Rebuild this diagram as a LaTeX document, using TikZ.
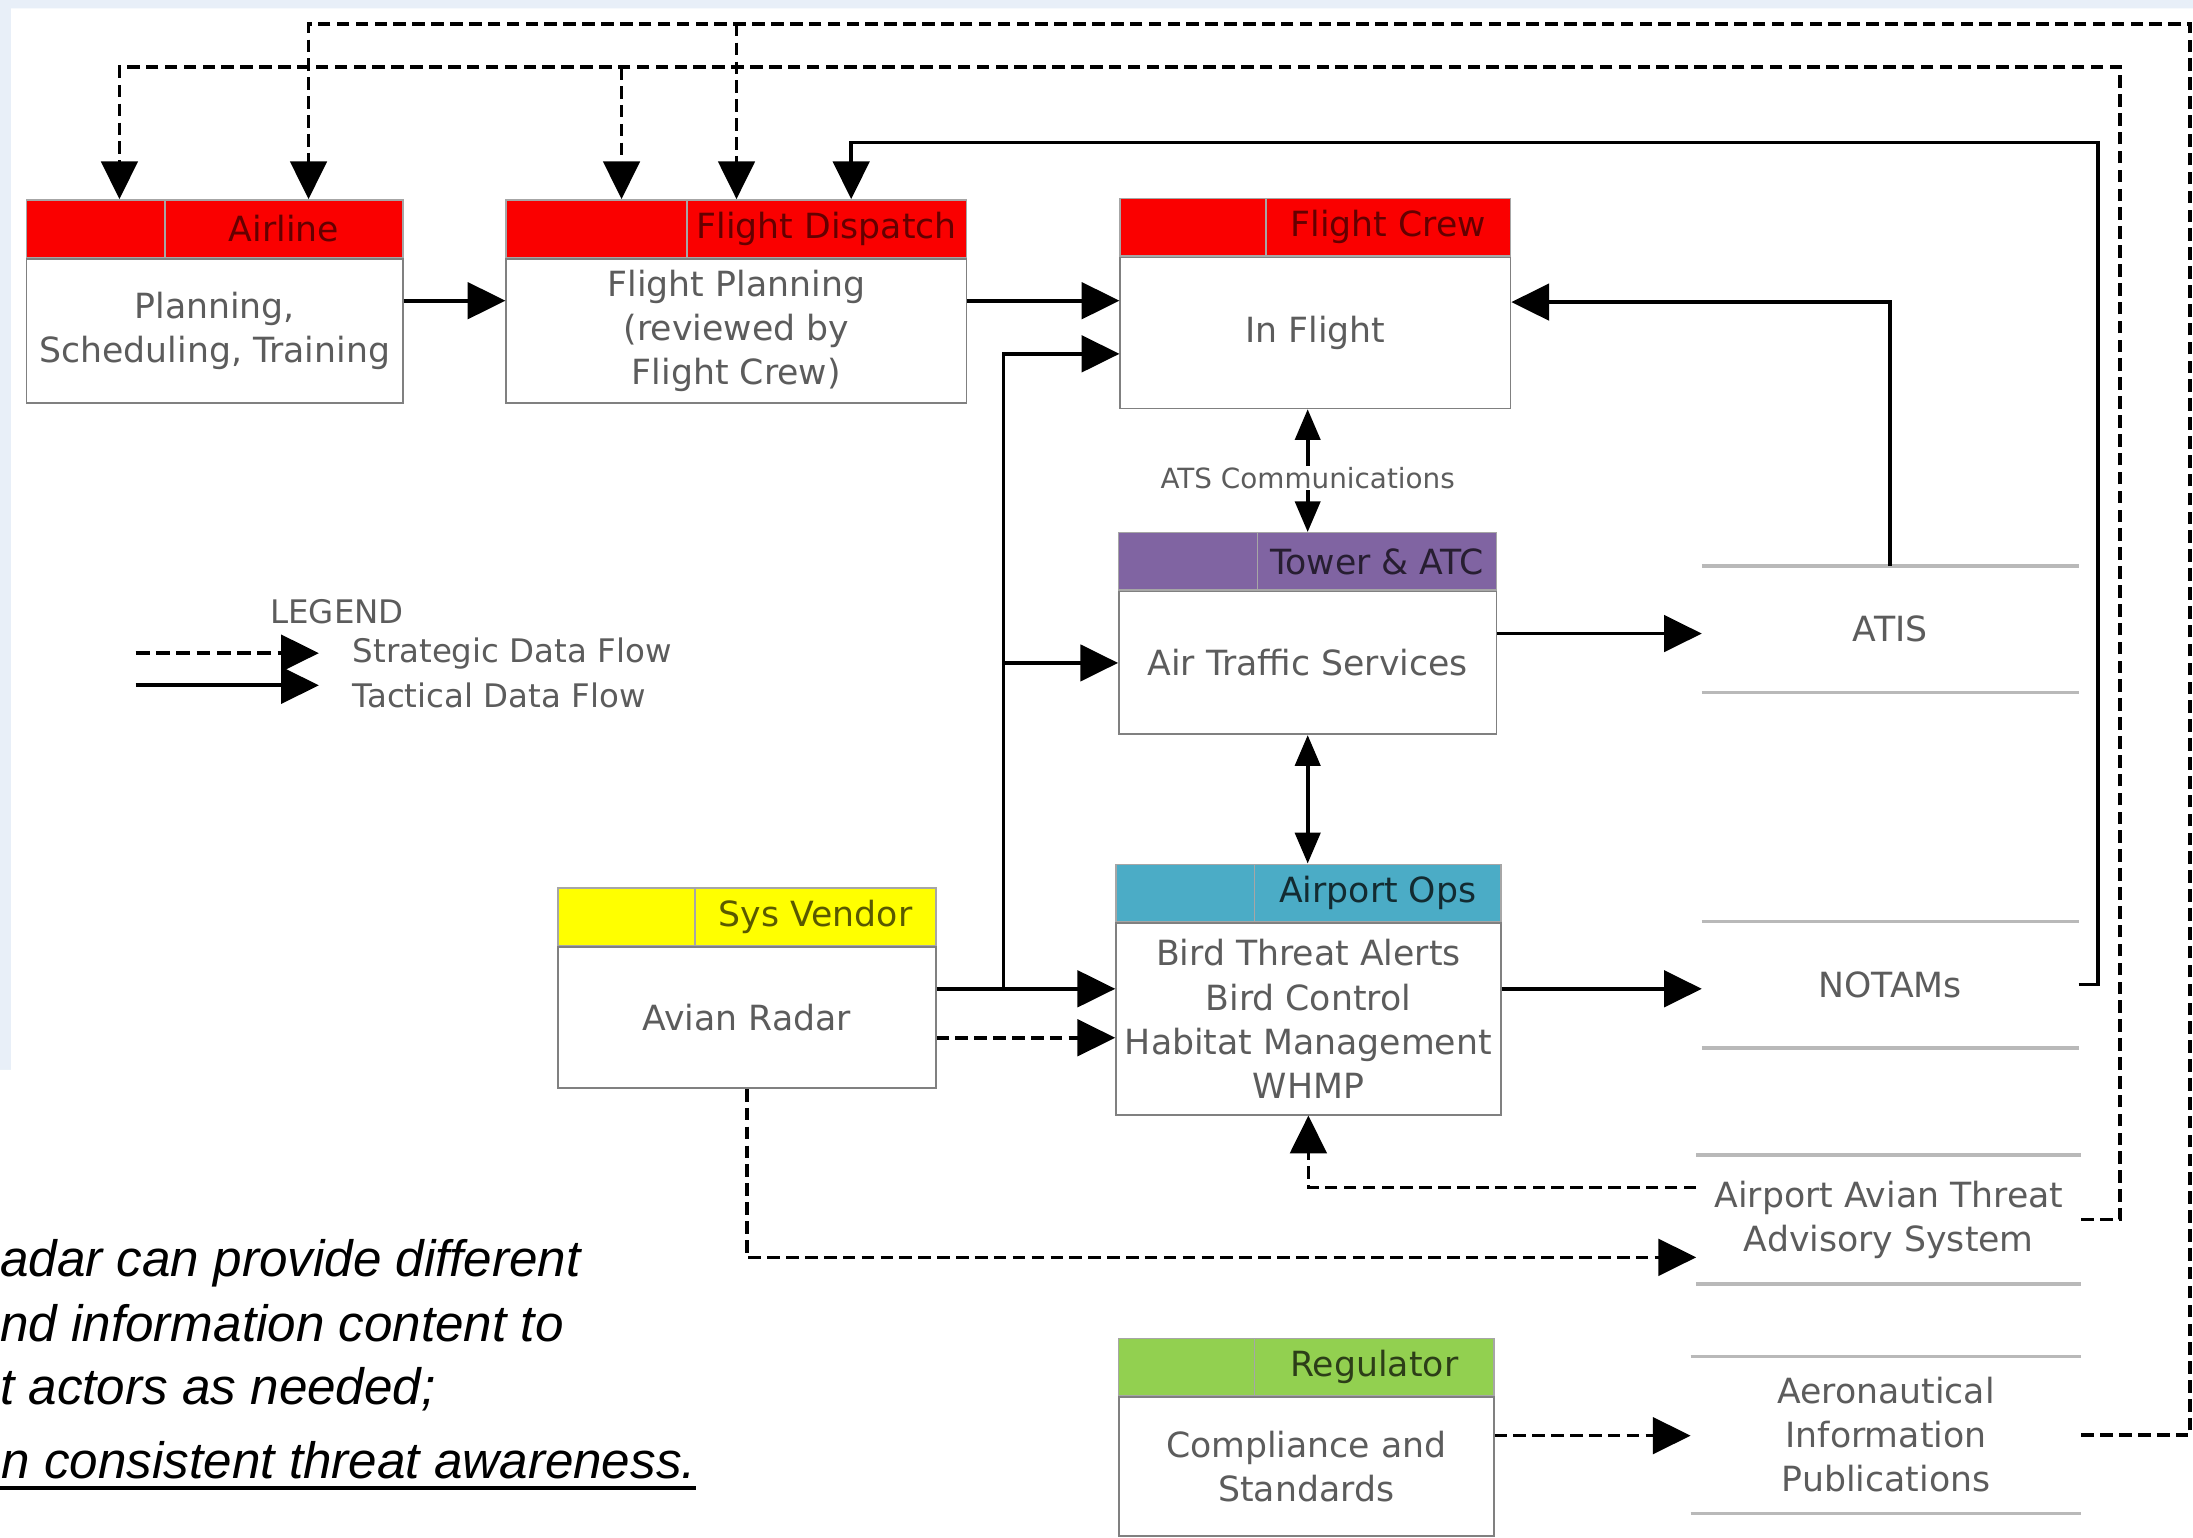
\documentclass[tikz,border=0pt]{standalone}
\usepackage{fontspec}
\setmainfont{DejaVu Sans}
\newfontfamily\notefont{Liberation Sans}
\usetikzlibrary{arrows.meta,calc}

\definecolor{hdrred}{RGB}{250,0,0}
\definecolor{hdrpurple}{RGB}{128,100,162}
\definecolor{hdrteal}{RGB}{75,172,198}
\definecolor{hdryellow}{RGB}{255,255,0}
\definecolor{hdrgreen}{RGB}{146,208,80}
\definecolor{txtgray}{RGB}{92,92,92}
\definecolor{slidebg}{RGB}{232,239,248}

\newcommand\boxfont{\fontsize{24.8}{31.5}\selectfont}
\newcommand\legfont{\fontsize{23.2}{29}\selectfont}
\newcommand\atsfont{\fontsize{19.9}{24}\selectfont}
\newcommand\notebig{\notefont\itshape\fontsize{36.6}{46}\selectfont}

\begin{document}
\begin{tikzpicture}[x=1pt,y=-1pt]
  \tikzset{box/.style={draw=gray,line width=1.2pt,fill=white,text=txtgray,align=center,inner sep=0pt,font=\boxfont},
    hcell/.style={draw=gray!70,line width=1pt,minimum height=41pt,inner sep=0pt,font=\boxfont},
    store/.style={text=txtgray,align=center,inner sep=0pt,font=\boxfont},
    storeline/.style={draw=gray!55,line width=2.5pt},
    tact/.style={line width=2.6pt,-{Triangle[length=27pt,width=26pt]}},
    strat/.style={tact,dash pattern=on 9pt off 4.5pt},
    twoway/.style={line width=2.6pt,{Triangle[length=22pt,width=18pt]}-{Triangle[length=22pt,width=18pt]}}}
  \useasboundingbox (0,0) rectangle (1568,1099);
  \clip (0,0) rectangle (1568,1099);
  \fill[slidebg] (0,0) rectangle (1568,1099);
  \fill[white] (8,6) rectangle (1568,1099) (0,765) rectangle (8,1099);

  % actors
  \node[box,minimum width=269,minimum height=103] (airline) at (153.5,236.5) {Planning,\\Scheduling, Training};
  \node[hcell,fill=hdrred,minimum width=99,anchor=south west] (airlineL) at (airline.north west) {};
  \node[hcell,fill=hdrred,minimum width=170,anchor=south east,text=hdrred!40!black] (airlineR) at (airline.north east) {Airline};

  \node[box,minimum width=329,minimum height=103] (dispatch) at (526.5,236.5) {Flight Planning\\(reviewed by\\Flight Crew)};
  \node[hcell,fill=hdrred,minimum width=129,anchor=south west] (dispatchL) at (dispatch.north west) {};
  \node[hcell,fill=hdrred,minimum width=200,anchor=south east,text=hdrred!40!black] (dispatchR) at (dispatch.north east) {Flight Dispatch};

  \node[box,minimum width=279,minimum height=108] (crew) at (940.5,238) {In Flight};
  \node[hcell,fill=hdrred,minimum width=104,anchor=south west] (crewL) at (crew.north west) {};
  \node[hcell,fill=hdrred,minimum width=175,anchor=south east,text=hdrred!40!black] (crewR) at (crew.north east) {Flight Crew};

  \node[box,minimum width=270,minimum height=102] (tower) at (935,474) {Air Traffic Services};
  \node[hcell,fill=hdrpurple,minimum width=99,anchor=south west] (towerL) at (tower.north west) {};
  \node[hcell,fill=hdrpurple,minimum width=171,anchor=south east,text=hdrpurple!30!black] (towerR) at (tower.north east) {Tower \& ATC};

  \node[box,minimum width=275,minimum height=137] (ops) at (935.5,728.5) {Bird Threat Alerts\\Bird Control\\Habitat Management\\WHMP};
  \node[hcell,fill=hdrteal,minimum width=99,anchor=south west] (opsL) at (ops.north west) {};
  \node[hcell,fill=hdrteal,minimum width=176,anchor=south east,text=hdrteal!25!black] (opsR) at (ops.north east) {Airport Ops};

  \node[box,minimum width=270,minimum height=101] (vendor) at (534,727.5) {Avian Radar};
  \node[hcell,fill=hdryellow,minimum width=98,anchor=south west] (vendorL) at (vendor.north west) {};
  \node[hcell,fill=hdryellow,minimum width=172,anchor=south east,text=hdryellow!35!black] (vendorR) at (vendor.north east) {Sys Vendor};

  \node[box,minimum width=268,minimum height=99] (regulator) at (934,1048.5) {Compliance and\\Standards};
  \node[hcell,fill=hdrgreen,minimum width=97,anchor=south west] (regulatorL) at (regulator.north west) {};
  \node[hcell,fill=hdrgreen,minimum width=171,anchor=south east,text=hdrgreen!30!black] (regulatorR) at (regulator.north east) {Regulator};

  % data stores
  \node[store,minimum width=269,minimum height=90] (atis) at (1351.5,450) {ATIS};
  \node[store,minimum width=269,minimum height=90] (notams) at (1351.5,704) {NOTAMs};
  \node[store,minimum width=275,minimum height=92] (aatas) at (1350.5,872) {Airport Avian Threat\\Advisory System};
  \node[store,minimum width=279,minimum height=112] (aip) at (1348.5,1026) {Aeronautical\\Information\\Publications};
  \foreach \s in {atis,notams,aatas,aip}
    \draw[storeline] (\s.north west) -- (\s.north east) (\s.south west) -- (\s.south east);

  % legend
  \node[store,font=\legfont] (legend) at (241,437) {LEGEND};
  \node[store,font=\legfont,anchor=west] (lstrat) at (252,467) {Strategic Data Flow};
  \node[store,font=\legfont,anchor=west] (ltact) at (252,497) {Tactical Data Flow};
  \coordinate (ls) at (97,467);
  \coordinate (lt) at (97,490);
  \draw[strat,dash pattern=on 10pt off 4.5pt] (ls) -- ($(lstrat.west)+(-24,0)$);
  \draw[tact] (lt) -- ($(ltact.west)+(-24,-7)$);

  % tactical flows
  \draw[tact] ($(airline.east)+(0,-21.5)$) coordinate (ae) -- (ae -| dispatch.west);
  \draw[tact] ($(dispatch.east)+(0,-21.5)$) coordinate (de) -- (de -| crew.west);
  \draw[tact] ($(vendor.east)+(0,-20.5)$) coordinate (va) -- (va -| ops.west);
  \coordinate (trunk) at ($(va)+(48,0)$);
  \draw[tact] (trunk) |- ($(crew.west)+(0,15)$);
  \draw[tact] (trunk |- tower.west) -- (tower.west);
  \draw[twoway] (crew.south -| tower.north) -- (tower.north |- towerR.north)
    node[pos=0.56,fill=white,inner sep=1pt,text=txtgray,font=\atsfont] (ats) {ATS Communications};
  \draw[twoway] (tower.south) -- (tower.south |- opsR.north);
  \draw[tact] ($(tower.east)+(0,-21)$) coordinate (te) -- (te -| atis.west);
  \draw[tact] (atis.north) |- ($(crew.east)+(0,-22)$);
  \draw[tact] ($(ops.east)+(0,-21.5)$) coordinate (oe) -- (oe -| notams.west);
  \coordinate (solidtop) at (1500,102);
  \draw[tact] (notams.east) -| (solidtop) -| ($(dispatchR.north west)+(118,0)$);

  % strategic flows
  \draw[strat] ($(vendor.east)+(0,14.5)$) coordinate (vd) -- (vd -| ops.west);
  \draw[strat] (vendor.south) |- ($(aatas.west)+(0,27)$);
  \draw[strat] ($(aatas.west)+(0,-23)$) -| (ops.south);
  \draw[strat] ($(regulator.east)+(0,-22)$) coordinate (re) -- (re -| aip.west);
  \coordinate (bus2) at (1516,48);
  \draw[strat] (aatas.east) -| (bus2) -| ($(airlineL.north west)+(67,0)$);
  \coordinate (db) at ($(dispatchL.north west)+(83,0)$);
  \draw[strat] (db |- bus2) -- (db);
  \coordinate (bus1) at (1566,17);
  \draw[strat] (aip.east) -| (bus1) -| ($(airlineR.north west)+(103,0)$);
  \coordinate (dr) at ($(dispatchR.north west)+(36,0)$);
  \draw[strat] (dr |- bus1) -- (dr);

  % slide text
  \node[anchor=base west,inner sep=0pt,font=\notebig] (note1) at (0,913) {adar can provide different};
  \node[anchor=base west,inner sep=0pt,font=\notebig] (note2) at (0,959) {nd information content to};
  \node[anchor=base west,inner sep=0pt,font=\notebig] (note3) at (0,1004) {t actors as needed;};
  \node[anchor=base west,inner sep=0pt,font=\notebig] (note4) at (1,1057) {n consistent threat awareness.};
  \draw[line width=2.4pt] ($(note4.base west)+(-1,7)$) -- ($(note4.base east)+(0,7)$);
\end{tikzpicture}
\end{document}
